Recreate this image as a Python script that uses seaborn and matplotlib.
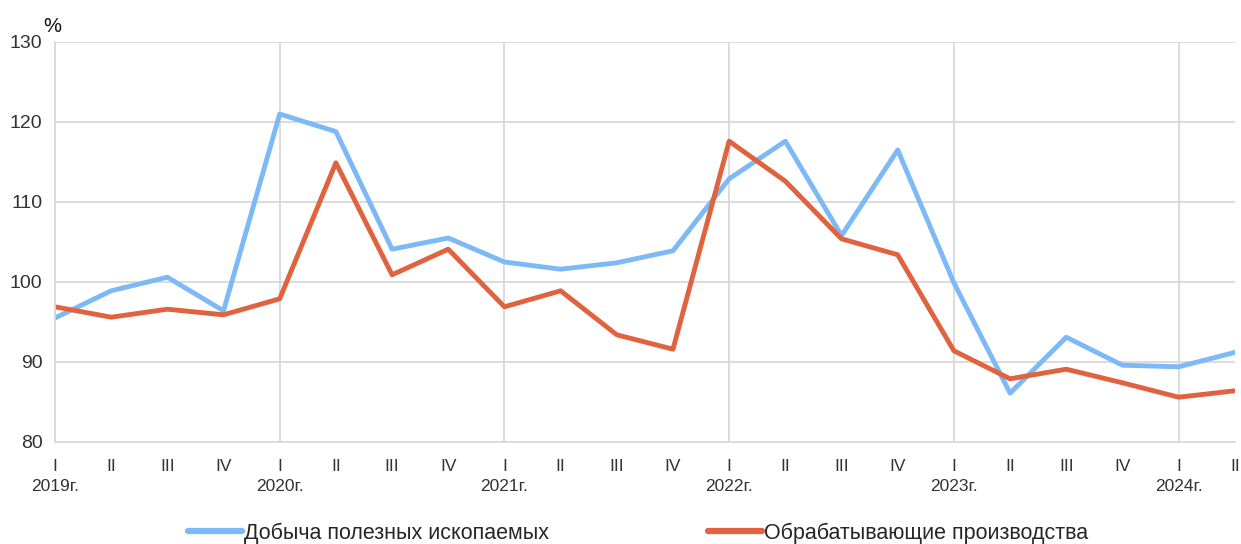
import pandas as pd
import matplotlib.pyplot as plt
import seaborn as sns

quarters = ["I", "II", "III", "IV"]
years = ["2019г.", "2020г.", "2021г.", "2022г.", "2023г.", "2024г."]

# Индексы производства, % к соответствующему периоду
dobycha = [95.5, 98.9, 100.6, 96.4, 121.0, 118.8, 104.1, 105.5,
           102.5, 101.6, 102.4, 103.9, 112.9, 117.6, 105.8, 116.5,
           99.9, 86.1, 93.1, 89.6, 89.4, 91.2]
obrabatka = [96.9, 95.6, 96.6, 95.9, 97.9, 114.9, 100.9, 104.1,
             96.9, 98.9, 93.4, 91.6, 117.6, 112.6, 105.4, 103.4,
             91.4, 87.9, 89.1, 87.4, 85.6, 86.4]

names = ["Добыча полезных ископаемых", "Обрабатывающие производства"]
colors = ["#7DB9F7", "#E0623E"]

n = len(dobycha)
labels = []
for i in range(n):
    q = quarters[i % 4]
    if i % 4 == 0:
        labels.append(q + "\n" + years[i // 4])
    else:
        labels.append(q)

df = pd.DataFrame({
    "x": list(range(n)) * 2,
    "value": dobycha + obrabatka,
    "series": [names[0]] * n + [names[1]] * n,
})

sns.set_style("white")
plt.rcParams["font.family"] = ["Liberation Sans", "DejaVu Sans"]

fig = plt.figure(figsize=(12.41, 5.44), dpi=100)
ax = fig.add_axes([0.0443, 0.1875, 0.9507, 0.7353])

sns.lineplot(data=df, x="x", y="value", hue="series", palette=colors,
             linewidth=3.5, ax=ax, legend=False)

ax.set_xlim(0, n - 1)
ax.set_ylim(80, 130)
ax.set_yticks(range(80, 131, 10))
ax.set_xticks(range(n))
ax.set_xticklabels(labels, fontsize=12.5, color="#333333", linespacing=1.45)
ax.tick_params(axis="y", labelsize=14, colors="#333333", length=0, pad=9)
ax.tick_params(axis="x", length=0, pad=12)
ax.set_xlabel("")
ax.set_ylabel("")

grid_c = "#D9D9D9"
for y in range(90, 131, 10):
    ax.axhline(y, color=grid_c, lw=1.3, zorder=0)
for x in range(0, n, 4):
    ax.axvline(x, color=grid_c, lw=1.3, zorder=0)
for s in ["top", "right"]:
    ax.spines[s].set_visible(False)
for s in ["left", "bottom"]:
    ax.spines[s].set_color(grid_c)
    ax.spines[s].set_linewidth(1.3)

ax.text(-0.2, 131.3, "%", fontsize=14.5, color="#111111", ha="left")

handles = [plt.Line2D([], [], color=c, lw=4.5, solid_capstyle="round") for c in colors]
fig.legend(handles, names, loc="lower center", bbox_to_anchor=(0.514, -0.035),
           ncol=2, frameon=False, fontsize=15.5, handlelength=2.5,
           handletextpad=0.1, columnspacing=7.4)

fig.savefig("out.png", dpi=100)
